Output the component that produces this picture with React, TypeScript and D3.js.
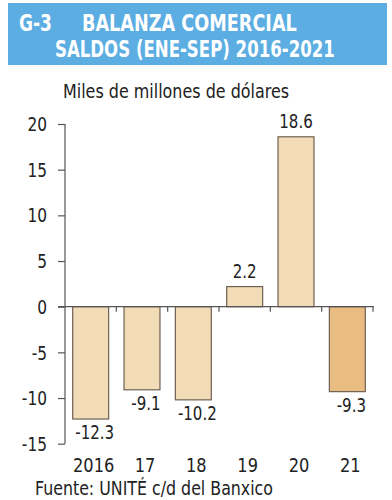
import { useEffect, useRef } from "react";
import * as d3 from "d3";

const years = ["2016", "17", "18", "19", "20", "21"];
const saldos = [-12.3, -9.1, -10.2, 2.2, 18.6, -9.3];
const yTicks = [20, 15, 10, 5, 0, -5, -10, -15];

const FONT = "'DejaVu Sans Condensed', Roboto, sans-serif";

// squeeze a text to a given share of its natural width, to mimic the condensed face
function squeeze(sel: d3.Selection<any, any, any, any>, factor: number) {
  sel.each(function () {
    const el = this as SVGTextElement;
    const w = el.getComputedTextLength();
    d3.select(el).attr("textLength", w * factor).attr("lengthAdjust", "spacingAndGlyphs");
  });
}

export default function App() {
  const svgRef = useRef<SVGSVGElement | null>(null);

  useEffect(() => {
    if (!svgRef.current) return;
    const svg = d3.select(svgRef.current);
    svg.selectAll("*").remove();

    // title banner
    svg.append("rect")
      .attr("x", 8).attr("y", 3).attr("width", 379).attr("height", 62)
      .attr("fill", "#5badE2");
    // titles: scaled horizontally to the target width
    const title = (txt: string, x0: number, y0: number, len: number) => {
      const g = svg.append("g");
      const t = g.append("text")
        .attr("fill", "#fff").attr("font-family", FONT).attr("font-weight", 700)
        .attr("font-size", 23)
        .text(txt);
      const w = (t.node() as SVGTextElement).getComputedTextLength();
      g.attr("transform", `translate(${x0},${y0}) scale(${len / w},1)`);
    };
    title("G-3", 19, 31, 33);
    title("BALANZA COMERCIAL", 82, 31, 215);
    title("SALDOS (ENE-SEP) 2016-2021", 55, 57, 280);

    svg.append("text")
      .attr("x", 63).attr("y", 98)
      .attr("fill", "#222").attr("font-family", FONT)
      .attr("font-size", 19)
      .attr("textLength", 226).attr("lengthAdjust", "spacingAndGlyphs")
      .text("Miles de millones de dólares");

    const x = d3.scaleBand().domain(years).range([65, 373]).paddingInner(0.3).paddingOuter(0.15);
    const y = d3.scaleLinear().domain([-15, 20]).range([443.7, 124]);

    // y axis
    const yAxis = svg.append("g").attr("transform", "translate(65,0)")
      .call(d3.axisLeft(y).tickValues(yTicks).tickSize(7).tickPadding(11).tickFormat((d) => String(d)));
    yAxis.attr("font-family", null).attr("font-size", null);
    yAxis.select(".domain").attr("stroke", "#555").attr("stroke-width", 1.2).attr("d", `M0,${y(20)}V${y(-15)}`);
    yAxis.selectAll(".tick line").attr("stroke", "#555").attr("stroke-width", 1.2);
    const yText = yAxis.selectAll(".tick text")
      .attr("fill", "#222").attr("font-family", FONT).attr("font-size", 19)
      .attr("dy", "0.35em");
    squeeze(yText, 0.9);

    // bars
    svg.append("g")
      .selectAll("rect")
      .data(saldos)
      .join("rect")
      .attr("x", (_, i) => x(years[i])!)
      .attr("width", x.bandwidth())
      .attr("y", (d) => y(Math.max(0, d)))
      .attr("height", (d) => Math.abs(y(d) - y(0)))
      .attr("fill", (_, i) => (i === saldos.length - 1 ? "#e9bd82" : "#f2dcb7"))
      .attr("stroke", "#6e6052")
      .attr("stroke-width", 1.2);

    // zero line with category ticks
    svg.append("line")
      .attr("x1", 58).attr("x2", 374).attr("y1", y(0)).attr("y2", y(0))
      .attr("stroke", "#555").attr("stroke-width", 1.2);
    const gap = (x.step() - x.bandwidth()) / 2;
    svg.append("g")
      .selectAll("line")
      .data(years)
      .join("line")
      .attr("x1", (d) => x(d)! + x.bandwidth() + gap)
      .attr("x2", (d) => x(d)! + x.bandwidth() + gap)
      .attr("y1", y(0)).attr("y2", y(0) + 5)
      .attr("stroke", "#555").attr("stroke-width", 1.2);

    // value labels
    const vals = svg.append("g")
      .selectAll("text")
      .data(saldos)
      .join("text")
      .attr("x", (d, i) => x(years[i])! + x.bandwidth() / 2 + (d < 0 ? 4 : 0))
      .attr("y", (d) => (d < 0 ? y(d) + 20 : y(d) - 9))
      .attr("text-anchor", "middle")
      .attr("fill", "#222").attr("font-family", FONT).attr("font-size", 19)
      .text((d) => d.toFixed(1));
    squeeze(vals, 0.88);

    // x labels
    const xl = svg.append("g")
      .selectAll("text")
      .data(years)
      .join("text")
      .attr("x", (d) => x(d)! + x.bandwidth() / 2 + 3)
      .attr("y", 472)
      .attr("text-anchor", "middle")
      .attr("fill", "#222").attr("font-family", FONT).attr("font-size", 20)
      .text((d) => d);
    squeeze(xl, 0.9);

    svg.append("text")
      .attr("x", 35).attr("y", 495)
      .attr("fill", "#222").attr("font-family", FONT).attr("font-size", 20)
      .attr("textLength", 238).attr("lengthAdjust", "spacingAndGlyphs")
      .text("Fuente: UNITÉ c/d del Banxico");
  }, []);

  return (
    <svg
      ref={svgRef}
      width={392}
      height={500}
      style={{ position: "absolute", left: 0, top: 0, background: "#fff" }}
    />
  );
}
